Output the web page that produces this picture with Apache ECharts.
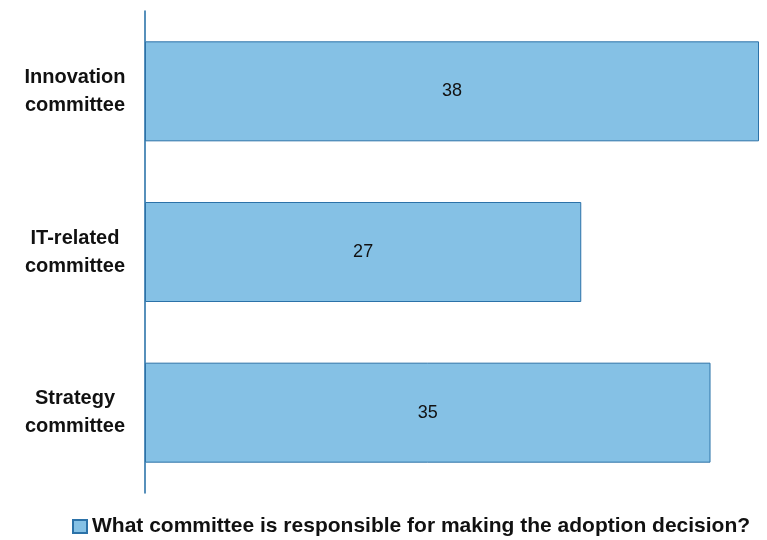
<!DOCTYPE html>
<html>
<head>
<meta charset="utf-8">
<script src="https://cdn.jsdelivr.net/npm/echarts@6/dist/echarts.min.js"></script>
<style>
  html, body { margin: 0; padding: 0; background: #ffffff; }
  #chart { width: 767px; height: 540px; }
</style>
</head>
<body>
<div id="chart"></div>
<script>
// Committee categories, listed bottom to top as the category axis draws them
const categories = ['Strategy\ncommittee', 'IT-related\ncommittee', 'Innovation\ncommittee'];
const seriesName = 'What committee is responsible for making the adoption decision?';
const values = [35, 27, 38];

const chart = echarts.init(document.getElementById('chart'), null, { renderer: 'canvas' });

chart.setOption({
  animation: false,
  grid: { left: 145, top: 11, width: 614, height: 482, containLabel: false },
  xAxis: {
    type: 'value',
    min: 0,
    max: 38,
    show: false
  },
  yAxis: {
    type: 'category',
    data: categories,
    axisLine: { show: true, lineStyle: { color: '#1F6BA5', width: 1.5 } },
    axisTick: { show: false },
    axisLabel: {
      margin: 70,
      fontFamily: 'Liberation Sans, Arial, sans-serif',
      fontSize: 20,
      fontWeight: 'bold',
      color: '#111111',
      lineHeight: 28,
      align: 'center',
      padding: [4, 0, 0, 0]
    }
  },
  legend: {
    top: 516,
    left: 72,
    padding: 0,
    icon: 'rect',
    itemWidth: 14,
    itemHeight: 13,
    data: [seriesName],
    textStyle: {
      fontFamily: 'Liberation Sans, Arial, sans-serif',
      fontSize: 21,
      fontWeight: 'bold',
      color: '#111111'
    }
  },
  series: [{
    name: seriesName,
    type: 'bar',
    data: values,
    barWidth: 100,
    itemStyle: { color: '#85C1E5', borderColor: '#2C72A8', borderWidth: 1 },
    label: {
      show: true,
      position: 'inside',
      fontFamily: 'Liberation Sans, Arial, sans-serif',
      fontSize: 18,
      color: '#111111'
    }
  }]
});
</script>
</body>
</html>
